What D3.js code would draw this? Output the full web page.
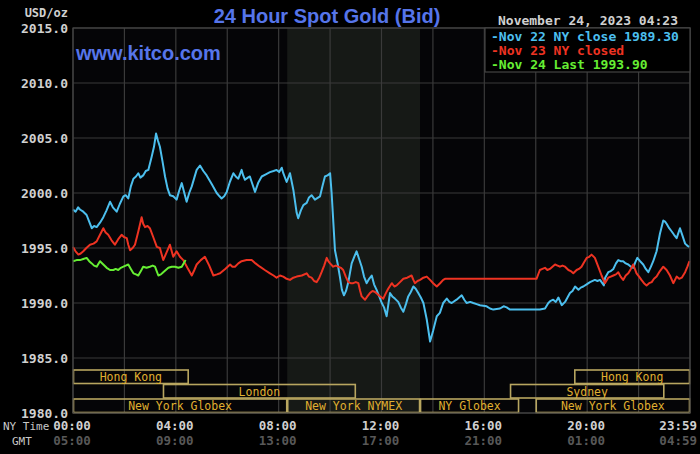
<!DOCTYPE html>
<html><head><meta charset="utf-8">
<script src="https://cdn.jsdelivr.net/npm/d3@7"></script>
<style>html,body{margin:0;padding:0;background:#000;} svg{display:block;}</style>
</head><body><svg id="c" width="700" height="454"></svg>
<script>
// ---------- data ----------
const yTickValues = [1980, 1985, 1990, 1995, 2000, 2005, 2010, 2015];
const xGridHours = [0, 2, 4, 6, 8, 10, 12, 14, 16, 18, 20, 22, 24];
const xLabelHours = [0, 4, 8, 12, 16, 20, 24];
const nyTimeLabels = ["00:00", "04:00", "08:00", "12:00", "16:00", "20:00", "23:59"];
const gmtTimeLabels = ["05:00", "09:00", "13:00", "17:00", "21:00", "01:00", "04:59"];

const nov22 = [[0.00,1998.5],[0.10,1998.3],[0.20,1998.7],[0.27,1998.5],[0.40,1998.3],[0.53,1998.0],[0.63,1997.4],[0.73,1996.8],[0.82,1997.0],[0.92,1996.9],[1.05,1997.3],[1.18,1997.8],[1.30,1998.4],[1.44,1999.2],[1.55,1998.7],[1.70,1998.3],[1.82,1999.0],[1.96,1999.7],[2.05,1999.8],[2.15,1999.5],[2.25,2000.6],[2.35,2001.3],[2.45,2001.5],[2.54,2001.8],[2.62,2001.4],[2.73,2001.6],[2.83,2002.0],[2.93,2002.1],[3.06,2003.3],[3.15,2004.2],[3.23,2005.4],[3.30,2004.8],[3.38,2004.2],[3.48,2002.9],[3.58,2001.5],[3.68,2000.4],[3.77,1999.8],[3.90,1999.7],[4.03,1999.4],[4.13,2000.2],[4.23,2000.9],[4.32,2000.1],[4.42,1999.2],[4.52,2000.0],[4.62,2000.6],[4.72,2001.4],[4.81,2002.1],[4.94,2002.5],[5.07,2002.0],[5.20,2001.6],[5.40,2000.8],[5.59,2000.0],[5.70,1999.7],[5.78,1999.5],[5.88,1999.7],[5.98,2000.1],[6.10,2001.0],[6.24,2001.8],[6.33,2001.5],[6.43,2001.3],[6.56,2002.1],[6.62,2001.6],[6.69,2001.2],[6.80,2001.4],[6.88,2001.5],[6.98,2000.8],[7.08,2000.1],[7.20,2000.9],[7.34,2001.5],[7.50,2001.7],[7.66,2001.9],[7.80,2002.0],[7.92,2002.1],[8.02,2001.9],[8.12,2002.3],[8.18,2001.8],[8.31,2001.0],[8.44,2001.8],[8.57,2000.3],[8.70,1998.2],[8.76,1997.7],[8.86,1998.4],[8.96,1998.9],[9.09,1999.1],[9.18,1999.6],[9.28,1999.8],[9.41,1999.4],[9.61,1999.7],[9.70,2000.6],[9.80,2001.5],[9.90,2001.6],[10.00,2001.8],[10.06,2000.0],[10.19,1994.8],[10.30,1993.5],[10.38,1992.4],[10.46,1991.2],[10.54,1990.7],[10.62,1991.1],[10.71,1991.9],[10.84,1993.6],[10.94,1994.2],[11.03,1994.7],[11.13,1994.0],[11.23,1993.3],[11.32,1992.4],[11.42,1991.8],[11.52,1992.2],[11.62,1992.5],[11.71,1991.7],[11.81,1991.2],[11.91,1990.6],[12.01,1990.0],[12.10,1989.6],[12.20,1988.8],[12.33,1990.9],[12.42,1990.6],[12.52,1990.4],[12.65,1990.1],[12.75,1989.6],[12.85,1989.2],[12.95,1989.9],[13.04,1990.6],[13.14,1991.0],[13.24,1991.5],[13.33,1991.3],[13.43,1990.9],[13.53,1990.5],[13.63,1990.0],[13.76,1988.5],[13.89,1986.5],[14.01,1987.5],[14.15,1988.8],[14.27,1989.1],[14.40,1990.0],[14.54,1990.4],[14.64,1990.1],[14.73,1990.0],[14.92,1990.3],[15.02,1990.5],[15.12,1990.7],[15.22,1990.3],[15.31,1990.0],[15.45,1990.1],[15.57,1990.0],[15.70,1989.9],[15.83,1989.8],[16.09,1989.7],[16.22,1989.5],[16.35,1989.4],[16.61,1989.5],[16.75,1989.7],[16.87,1989.6],[17.00,1989.4],[17.13,1989.4],[17.65,1989.4],[18.16,1989.4],[18.36,1989.5],[18.49,1990.0],[18.58,1990.2],[18.68,1990.3],[18.78,1990.1],[18.88,1990.5],[19.01,1989.8],[19.14,1990.1],[19.33,1990.9],[19.43,1991.1],[19.53,1991.5],[19.66,1991.2],[19.75,1991.4],[19.85,1991.5],[19.98,1991.7],[20.11,1991.9],[20.30,1992.1],[20.40,1992.0],[20.50,1992.1],[20.65,1991.6],[20.70,1992.3],[20.82,1992.8],[20.92,1992.9],[21.02,1993.1],[21.12,1993.6],[21.21,1993.9],[21.30,1993.8],[21.40,1993.8],[21.50,1993.6],[21.60,1993.5],[21.70,1993.3],[21.79,1993.2],[21.87,1993.7],[21.95,1994.1],[22.06,1993.8],[22.18,1993.5],[22.28,1993.1],[22.38,1992.8],[22.48,1993.3],[22.57,1993.8],[22.70,1994.7],[22.83,1996.3],[22.96,1997.5],[23.03,1997.4],[23.09,1997.2],[23.19,1996.8],[23.29,1996.5],[23.38,1996.2],[23.48,1995.9],[23.61,1996.8],[23.71,1996.1],[23.81,1995.4],[23.90,1995.2],[23.98,1995.1]];

const nov23 = [[0.00,1995.1],[0.10,1994.7],[0.21,1994.4],[0.30,1994.5],[0.40,1994.7],[0.52,1995.0],[0.66,1995.3],[0.80,1995.4],[0.92,1995.6],[1.05,1996.2],[1.18,1996.8],[1.27,1996.4],[1.37,1996.2],[1.50,1995.7],[1.63,1995.3],[1.76,1995.8],[1.89,1996.2],[1.98,1996.0],[2.09,1995.9],[2.15,1995.3],[2.22,1994.8],[2.32,1995.0],[2.41,1995.3],[2.54,1996.5],[2.67,1997.8],[2.73,1997.2],[2.80,1996.9],[2.90,1997.0],[2.99,1996.8],[3.12,1996.0],[3.26,1995.1],[3.38,1995.0],[3.45,1994.4],[3.51,1993.9],[3.64,1994.6],[3.77,1995.3],[3.84,1994.7],[3.90,1994.2],[4.03,1994.7],[4.16,1994.2],[4.29,1993.9],[4.45,1993.2],[4.62,1992.5],[4.72,1993.0],[4.81,1993.5],[4.97,1993.9],[5.13,1994.2],[5.30,1993.4],[5.46,1992.5],[5.60,1992.6],[5.72,1992.7],[5.92,1993.1],[6.11,1993.5],[6.20,1993.3],[6.30,1993.3],[6.43,1993.6],[6.56,1993.8],[6.75,1993.9],[6.95,1993.9],[7.10,1993.6],[7.27,1993.3],[7.46,1993.0],[7.66,1992.7],[7.80,1992.5],[7.92,1992.3],[8.05,1992.5],[8.18,1992.4],[8.31,1992.2],[8.44,1992.1],[8.57,1992.3],[8.70,1992.4],[8.90,1992.5],[9.09,1992.7],[9.18,1992.4],[9.28,1992.3],[9.38,1992.0],[9.48,1991.9],[9.58,1992.3],[9.67,1992.8],[9.77,1993.4],[9.87,1994.1],[9.93,1993.8],[10.00,1993.6],[10.12,1993.3],[10.22,1993.4],[10.32,1993.3],[10.42,1993.2],[10.51,1993.0],[10.61,1992.4],[10.71,1991.9],[10.80,1991.8],[10.90,1991.8],[11.00,1991.9],[11.10,1991.8],[11.17,1991.1],[11.23,1990.6],[11.36,1990.3],[11.45,1990.6],[11.55,1990.9],[11.65,1991.1],[11.75,1991.0],[11.85,1990.8],[11.94,1990.6],[12.07,1990.4],[12.17,1990.9],[12.26,1991.3],[12.40,1991.8],[12.50,1991.5],[12.59,1991.6],[12.72,1991.9],[12.85,1992.2],[13.00,1992.3],[13.17,1992.5],[13.24,1992.1],[13.30,1991.8],[13.40,1992.0],[13.50,1992.1],[13.63,1992.3],[13.76,1992.4],[13.89,1992.1],[14.01,1991.8],[14.15,1991.5],[14.28,1991.8],[14.40,1992.1],[14.47,1992.2],[18.03,1992.2],[18.16,1993.0],[18.26,1993.1],[18.36,1993.2],[18.45,1993.0],[18.55,1993.1],[18.65,1993.3],[18.75,1993.5],[18.85,1993.4],[18.94,1993.3],[19.04,1993.4],[19.14,1993.3],[19.27,1993.0],[19.36,1992.9],[19.46,1992.7],[19.59,1993.0],[19.68,1993.1],[19.78,1993.3],[19.88,1993.7],[19.98,1994.1],[20.08,1994.2],[20.17,1994.4],[20.30,1994.1],[20.43,1993.3],[20.56,1992.5],[20.69,1991.8],[20.82,1992.3],[20.92,1992.4],[21.02,1992.5],[21.12,1992.6],[21.21,1992.8],[21.30,1992.4],[21.40,1992.1],[21.50,1992.5],[21.60,1992.7],[21.70,1993.1],[21.79,1993.5],[21.92,1992.7],[22.02,1992.4],[22.11,1992.1],[22.21,1991.8],[22.31,1991.6],[22.41,1991.8],[22.51,1991.9],[22.60,1992.2],[22.70,1992.4],[22.83,1992.9],[22.96,1993.3],[23.09,1993.0],[23.22,1992.5],[23.35,1991.8],[23.48,1992.4],[23.58,1992.2],[23.68,1992.3],[23.81,1992.8],[23.90,1993.3],[23.98,1993.8]];

const nov24 = [[0.00,1993.8],[0.14,1993.9],[0.27,1993.9],[0.40,1994.0],[0.53,1994.1],[0.63,1993.8],[0.73,1993.6],[0.82,1993.4],[0.92,1993.3],[1.05,1993.8],[1.18,1993.5],[1.31,1993.2],[1.44,1993.0],[1.57,1993.0],[1.66,1993.1],[1.76,1993.0],[1.86,1993.2],[1.96,1993.3],[2.05,1993.4],[2.15,1993.5],[2.25,1993.1],[2.35,1992.7],[2.45,1992.6],[2.54,1992.5],[2.64,1992.9],[2.73,1993.3],[2.86,1993.2],[2.99,1993.3],[3.10,1993.4],[3.19,1993.3],[3.32,1992.5],[3.42,1992.6],[3.51,1992.8],[3.61,1993.0],[3.71,1993.2],[3.84,1993.3],[3.97,1993.3],[4.10,1993.2],[4.23,1993.3],[4.38,1993.9]];

const seriesNames = ["Nov 22 NY close 1989.30", "Nov 23 NY closed", "Nov 24 Last 1993.90"];
const seriesColors = ["#4cbfee", "#ee3322", "#66ee33"];

const sessionNames = ["Hong Kong", "Hong Kong", "London", "Sydney", "New York Globex", "New York NYMEX", "NY Globex", "New York Globex"];
const sessionStart = [0, 19.5, 3.5, 17, 0, 8.333, 13.5, 18];
const sessionEnd   = [4.5, 24, 11, 23, 8.333, 13.5, 17.35, 24];
const sessionRow   = [0, 0, 1, 1, 2, 2, 2, 2];
const pitHours = [8.333, 13.5];

// ---------- drawing ----------
const svg = d3.select("#c");
const L = 73, R = 690, T = 28, B = 413;
const x = d3.scaleLinear().domain([0, 24]).range([L, R]);
const y = d3.scaleLinear().domain([1980, 2015]).range([B, T]);
const mono = "'DejaVu Sans Mono', monospace";
const sans = "'Liberation Sans', Arial, sans-serif";

svg.append("rect").attr("width", 700).attr("height", 454).attr("fill", "#000");
svg.append("rect").attr("x", L).attr("y", T).attr("width", R - L).attr("height", B - T).attr("fill", "#050507");

// NYMEX pit shading
svg.append("rect").attr("x", x(pitHours[0])).attr("y", T)
  .attr("width", x(pitHours[1]) - x(pitHours[0])).attr("height", B - T).attr("fill", "#161916");

// grid
const grid = svg.append("g").attr("stroke", "#3a3a3a").attr("stroke-width", 1.2);
grid.selectAll("line.h").data(yTickValues).join("line")
  .attr("x1", L).attr("x2", R).attr("y1", d => y(d)).attr("y2", d => y(d));
grid.selectAll("line.v").data(xGridHours).join("line")
  .attr("y1", T).attr("y2", B).attr("x1", d => x(d)).attr("x2", d => x(d));

// y axis labels
svg.append("g").selectAll("text").data(yTickValues).join("text")
  .attr("x", 68).attr("y", d => y(d)).attr("dy", "0.35em").attr("text-anchor", "end")
  .attr("font-family", mono).attr("font-weight", "bold").attr("font-size", 13).attr("fill", "#d0d0d0")
  .text(d => d3.format(".1f")(d));
svg.append("text").attr("x", 68).attr("y", 13).attr("dy", "0.35em").attr("text-anchor", "end")
  .attr("font-family", mono).attr("font-weight", "bold").attr("font-size", 12).attr("fill", "#d0d0d0").text("USD/oz");

// session boxes
const rowH = 14.5;
const rowTop = r => B - (3 - r) * rowH;
const sess = svg.append("g");
sessionNames.forEach((n, i) => {
  const x0 = x(sessionStart[i]), x1 = x(sessionEnd[i]);
  sess.append("rect").attr("x", x0 + 0.5).attr("y", rowTop(sessionRow[i]) + 0.5)
    .attr("width", x1 - x0 - 1).attr("height", rowH - 1)
    .attr("fill", "none").attr("stroke", "#b8a660").attr("stroke-width", 1.6);
  sess.append("text").attr("x", (x0 + x1) / 2).attr("y", rowTop(sessionRow[i]) + rowH / 2 + 0.5)
    .attr("dy", "0.35em").attr("text-anchor", "middle")
    .attr("font-family", mono).attr("font-size", 11.5).attr("fill", "#e0b030").text(n);
});

// lines
const line = d3.line().x(d => x(d[0])).y(d => y(d[1]));
[nov22, nov23, nov24].forEach((s, i) => {
  svg.append("path").datum(s).attr("d", line).attr("fill", "none")
    .attr("stroke", seriesColors[i]).attr("stroke-width", 2).attr("stroke-linejoin", "round");
});

// plot border
svg.append("rect").attr("x", L).attr("y", T).attr("width", R - L).attr("height", B - T)
  .attr("fill", "none").attr("stroke", "#444").attr("stroke-width", 1.2);

// legend box
svg.append("rect").attr("x", 485).attr("y", T).attr("width", R - 485).attr("height", 44)
  .attr("fill", "#000").attr("stroke", "#444").attr("stroke-width", 1.2);
svg.append("g").selectAll("text").data(seriesNames).join("text")
  .attr("x", 491).attr("y", (d, i) => 36 + i * 14).attr("dy", "0.35em")
  .attr("font-family", mono).attr("font-weight", "bold").attr("font-size", 13)
  .attr("fill", (d, i) => seriesColors[i]).text(d => "-" + d);

// title / header
svg.append("text").attr("x", 327).attr("y", 23).attr("text-anchor", "middle")
  .attr("font-family", sans).attr("font-weight", "bold").attr("font-size", 20)
  .attr("fill", "#5675ea").text("24 Hour Spot Gold (Bid)");
svg.append("text").attr("x", 76).attr("y", 60)
  .attr("font-family", sans).attr("font-weight", "bold").attr("font-size", 20)
  .attr("fill", "#5675ea").text("www.kitco.com");
svg.append("text").attr("x", 678).attr("y", 20).attr("dy", "0.35em").attr("text-anchor", "end")
  .attr("font-family", mono).attr("font-weight", "bold").attr("font-size", 13).attr("fill", "#d0d0d0")
  .text("November 24, 2023 04:23");

// bottom axis
const bx = (h, i) => i === xLabelHours.length - 1 ? 697 : x(h) - 1;
const anc = (h, i) => i === xLabelHours.length - 1 ? "end" : "middle";
svg.append("g").selectAll("text").data(xLabelHours).join("text")
  .attr("x", bx).attr("y", 426).attr("dy", "0.35em").attr("text-anchor", anc)
  .attr("font-family", mono).attr("font-weight", "bold").attr("font-size", 12.5).attr("fill", "#d0d0d0")
  .text((d, i) => nyTimeLabels[i]);
svg.append("g").selectAll("text").data(xLabelHours).join("text")
  .attr("x", bx).attr("y", 441).attr("dy", "0.35em").attr("text-anchor", anc)
  .attr("font-family", mono).attr("font-weight", "bold").attr("font-size", 12.5).attr("fill", "#585858")
  .text((d, i) => gmtTimeLabels[i]);
svg.append("text").attr("x", 3).attr("y", 426).attr("dy", "0.35em")
  .attr("font-family", mono).attr("font-size", 11).attr("fill", "#c8c8c8").text("NY Time");
svg.append("text").attr("x", 12).attr("y", 441).attr("dy", "0.35em")
  .attr("font-family", mono).attr("font-size", 11).attr("fill", "#c8c8c8").text("GMT");
</script></body></html>
